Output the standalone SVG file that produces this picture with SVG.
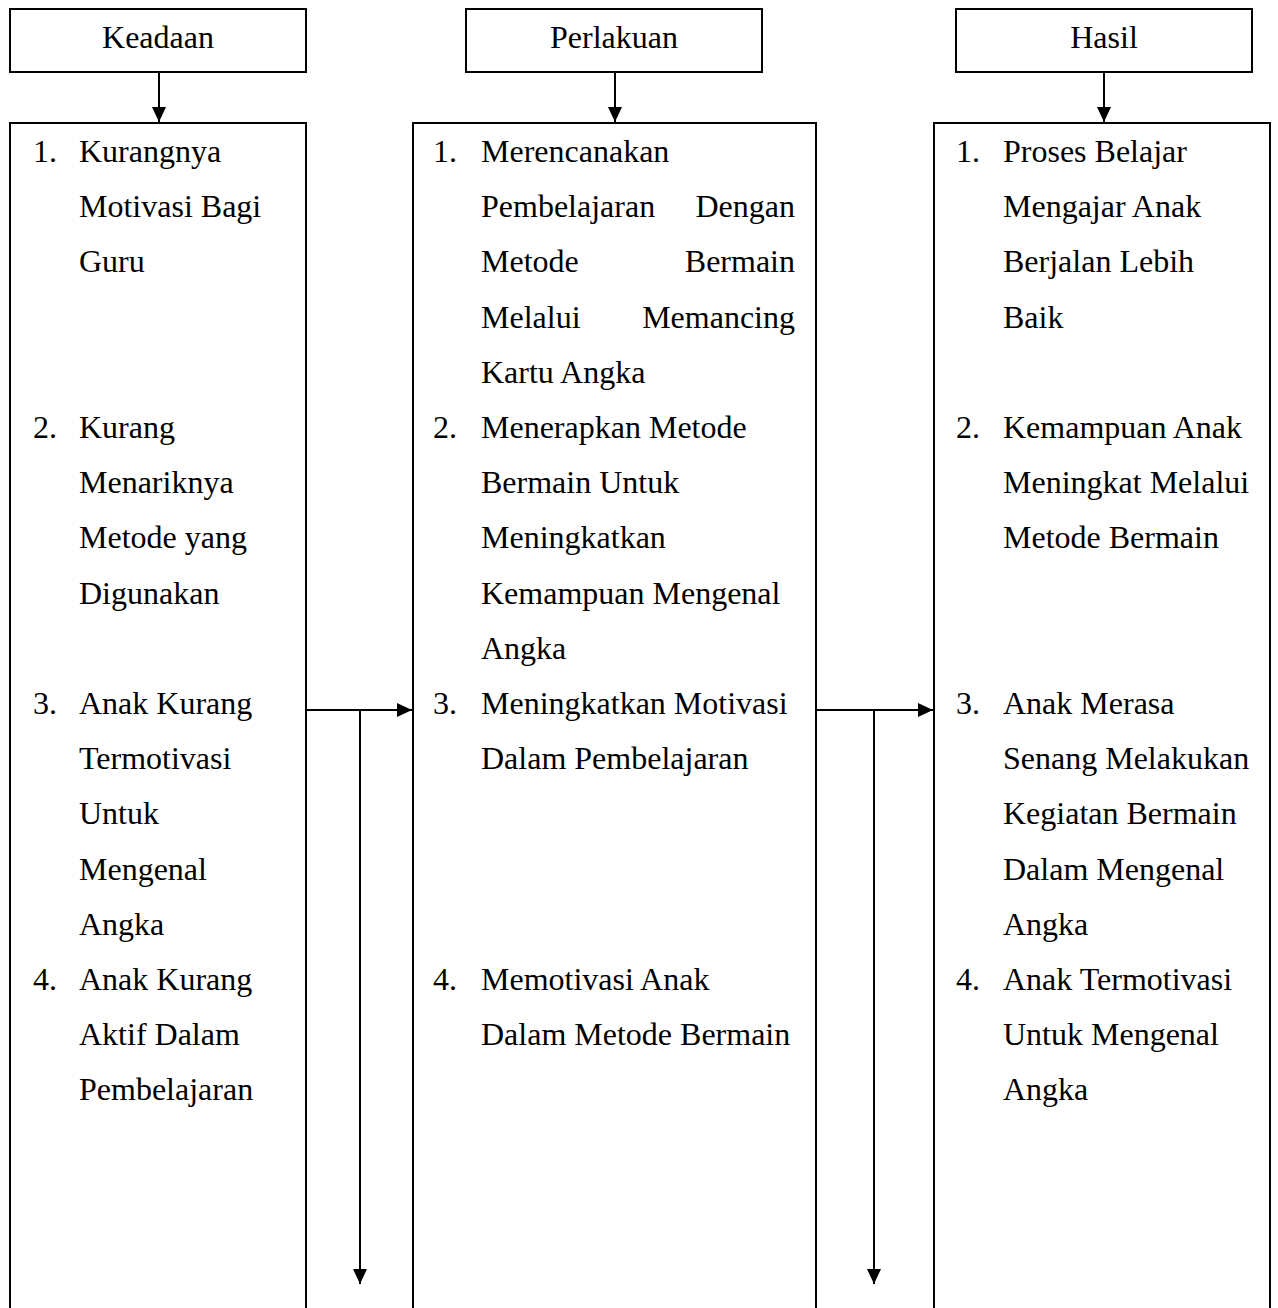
<svg xmlns="http://www.w3.org/2000/svg" width="1278" height="1308" viewBox="0 0 1278 1308">
<style>
.box{fill:none;stroke:#000;stroke-width:2}
.t{font-family:"Liberation Serif","Times New Roman",serif;font-size:32px;fill:#000}
.c{text-anchor:middle}
.e{text-anchor:end}
.ln{stroke:#000;stroke-width:2;fill:none}
</style>
<defs>
<marker id="ah" markerUnits="userSpaceOnUse" markerWidth="16" markerHeight="16" refX="15" refY="7" orient="auto">
<path d="M0,0 L15,7 L0,14 Z" fill="#000"/>
</marker>
</defs>
<rect width="1278" height="1308" fill="#fff"/>

<g id="header-keadaan">
<rect class="box" x="10" y="9" width="296" height="63"/>
<text class="t c" x="158" y="48">Keadaan</text>
</g>
<g id="header-perlakuan">
<rect class="box" x="466" y="9" width="296" height="63"/>
<text class="t c" x="614" y="48">Perlakuan</text>
</g>
<g id="header-hasil">
<rect class="box" x="956" y="9" width="296" height="63"/>
<text class="t c" x="1104" y="48">Hasil</text>
</g>

<g id="box-keadaan">
<path class="box" d="M10,1310 V123 H306 V1310"/>
<text class="t" x="33" y="162">1.</text><text class="t" x="79" y="162">Kurangnya</text>
<text class="t" x="79" y="217">Motivasi Bagi</text>
<text class="t" x="79" y="272">Guru</text>
<text class="t" x="33" y="438">2.</text><text class="t" x="79" y="438">Kurang</text>
<text class="t" x="79" y="493">Menariknya</text>
<text class="t" x="79" y="548">Metode yang</text>
<text class="t" x="79" y="604">Digunakan</text>
<text class="t" x="33" y="714">3.</text><text class="t" x="79" y="714">Anak Kurang</text>
<text class="t" x="79" y="769">Termotivasi</text>
<text class="t" x="79" y="824">Untuk</text>
<text class="t" x="79" y="880">Mengenal</text>
<text class="t" x="79" y="935">Angka</text>
<text class="t" x="33" y="990">4.</text><text class="t" x="79" y="990">Anak Kurang</text>
<text class="t" x="79" y="1045">Aktif Dalam</text>
<text class="t" x="79" y="1100">Pembelajaran</text>
</g>

<g id="box-perlakuan">
<path class="box" d="M413,1310 V123 H816 V1310"/>
<text class="t" x="433" y="162">1.</text><text class="t" x="481" y="162">Merencanakan</text>
<text class="t" x="481" y="217">Pembelajaran</text><text class="t e" x="795" y="217">Dengan</text>
<text class="t" x="481" y="272">Metode</text><text class="t e" x="795" y="272">Bermain</text>
<text class="t" x="481" y="328">Melalui</text><text class="t e" x="795" y="328">Memancing</text>
<text class="t" x="481" y="383">Kartu Angka</text>
<text class="t" x="433" y="438">2.</text><text class="t" x="481" y="438">Menerapkan Metode</text>
<text class="t" x="481" y="493">Bermain Untuk</text>
<text class="t" x="481" y="548">Meningkatkan</text>
<text class="t" x="481" y="604">Kemampuan Mengenal</text>
<text class="t" x="481" y="659">Angka</text>
<text class="t" x="433" y="714">3.</text><text class="t" x="481" y="714">Meningkatkan Motivasi</text>
<text class="t" x="481" y="769">Dalam Pembelajaran</text>
<text class="t" x="433" y="990">4.</text><text class="t" x="481" y="990">Memotivasi Anak</text>
<text class="t" x="481" y="1045">Dalam Metode Bermain</text>
</g>

<g id="box-hasil">
<path class="box" d="M934,1310 V123 H1270 V1310"/>
<text class="t" x="956" y="162">1.</text><text class="t" x="1003" y="162">Proses Belajar</text>
<text class="t" x="1003" y="217">Mengajar Anak</text>
<text class="t" x="1003" y="272">Berjalan Lebih</text>
<text class="t" x="1003" y="328">Baik</text>
<text class="t" x="956" y="438">2.</text><text class="t" x="1003" y="438">Kemampuan Anak</text>
<text class="t" x="1003" y="493">Meningkat Melalui</text>
<text class="t" x="1003" y="548">Metode Bermain</text>
<text class="t" x="956" y="714">3.</text><text class="t" x="1003" y="714">Anak Merasa</text>
<text class="t" x="1003" y="769">Senang Melakukan</text>
<text class="t" x="1003" y="824">Kegiatan Bermain</text>
<text class="t" x="1003" y="880">Dalam Mengenal</text>
<text class="t" x="1003" y="935">Angka</text>
<text class="t" x="956" y="990">4.</text><text class="t" x="1003" y="990">Anak Termotivasi</text>
<text class="t" x="1003" y="1045">Untuk Mengenal</text>
<text class="t" x="1003" y="1100">Angka</text>
</g>

<g id="connectors">
<line class="ln" x1="159" y1="72" x2="159" y2="122" marker-end="url(#ah)"/>
<line class="ln" x1="615" y1="72" x2="615" y2="122" marker-end="url(#ah)"/>
<line class="ln" x1="1104" y1="72" x2="1104" y2="122" marker-end="url(#ah)"/>
<line class="ln" x1="306" y1="710" x2="412" y2="710" marker-end="url(#ah)"/>
<line class="ln" x1="360" y1="710" x2="360" y2="1284" marker-end="url(#ah)"/>
<line class="ln" x1="816" y1="710" x2="933" y2="710" marker-end="url(#ah)"/>
<line class="ln" x1="874" y1="710" x2="874" y2="1284" marker-end="url(#ah)"/>
</g>
</svg>
